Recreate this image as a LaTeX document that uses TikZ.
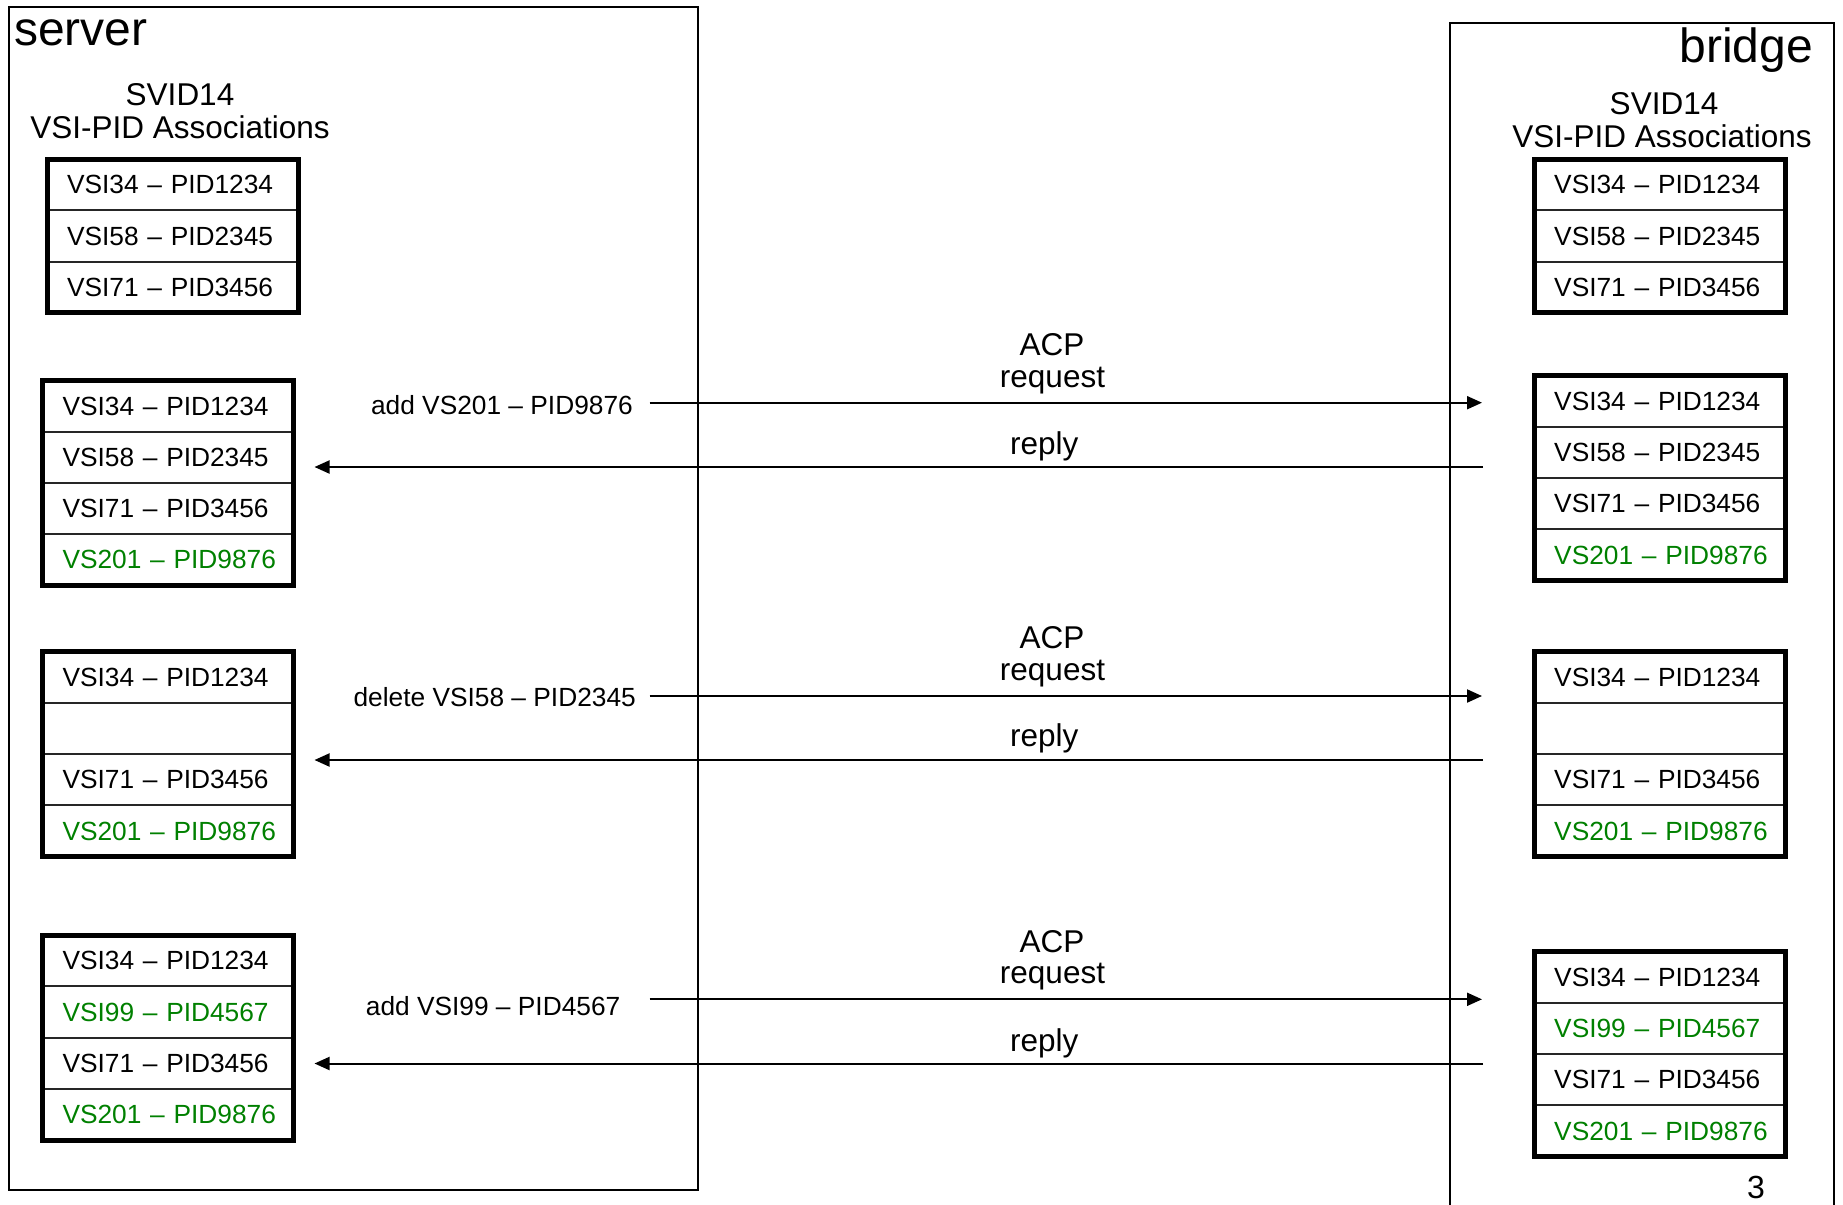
\documentclass[tikz,border=0pt]{standalone}
\usepackage{fontspec}
\setmainfont{Liberation Sans}
\usetikzlibrary{arrows.meta,positioning}
\definecolor{addgreen}{RGB}{0,128,0}
% table entries stay on one line: no breaks after the dash
\newcommand\cellfont{\fontsize{26.3pt}{30pt}\selectfont\exhyphenpenalty=10000 \hyphenpenalty=10000 }
\newcommand\headfont{\fontsize{31.5pt}{34pt}\selectfont}
\newcommand\titlefont{\fontsize{48pt}{52pt}\selectfont}
\newcommand\pagenofont{\fontsize{32pt}{34pt}\selectfont}

\begin{document}
\begin{tikzpicture}[x=1pt,y=-1pt,
  cell/.style={draw=black!85, line width=2pt, outer sep=0pt, inner xsep=20pt,
    inner ysep=0pt, minimum height=51.2pt, text width=211pt, align=left,
    font=\cellfont},
  added/.style={cell, text=addgreen},
  tableframe/.style={line width=5pt},
  site/.style={line width=2.2pt},
  head/.style={font=\headfont, inner sep=0pt, anchor=base},
  oplabel/.style={font=\cellfont, inner sep=0pt, anchor=base east},
  msg/.style={line width=2pt, -{Triangle[length=15pt,width=13pt]}},
]
\useasboundingbox (0,0) rectangle (1843,1204);

% ---- the two sites ----
\draw[site] (9,7) rectangle (698,1190);
\node[font=\titlefont, inner sep=0pt, anchor=base west] (server) at (14,46) {server};

\draw[site] (1450,1215) -- (1450,22.7) -- (1834,22.7) -- (1834,1215);
\node[font=\titlefont, inner sep=0pt, anchor=base east] (bridge) at (1813,62.5) {bridge};

% ---- table headings ----
\node[head] (shA) at (180,106) {SVID14};
\node[head] (shB) at (180,138.5) {VSI-PID Associations};
\node[head] (bhA) at (1664,115) {SVID14};
\node[head] (bhB) at (1662,147) {VSI-PID Associations};

% ---- server tables ----
\node[cell, anchor=north west] (s1a) at (47,159.2) {\mbox{VSI34 – PID1234}};
\node[cell, below=0pt of s1a] (s1b) {\mbox{VSI58 – PID2345}};
\node[cell, below=0pt of s1b] (s1c) {\mbox{VSI71 – PID3456}};
\draw[tableframe] (s1a.north west) rectangle (s1c.south east);

\node[cell, anchor=north west] (s2a) at (42.5,380.5) {\mbox{VSI34 – PID1234}};
\node[cell, below=0pt of s2a] (s2b) {\mbox{VSI58 – PID2345}};
\node[cell, below=0pt of s2b] (s2c) {\mbox{VSI71 – PID3456}};
\node[added, below=0pt of s2c] (s2d) {\mbox{VS201 – PID9876}};
\draw[tableframe] (s2a.north west) rectangle (s2d.south east);

\node[cell, anchor=north west] (s3a) at (42.5,651.8) {\mbox{VSI34 – PID1234}};
\node[cell, below=0pt of s3a] (s3b) {};
\node[cell, below=0pt of s3b] (s3c) {\mbox{VSI71 – PID3456}};
\node[added, below=0pt of s3c] (s3d) {\mbox{VS201 – PID9876}};
\draw[tableframe] (s3a.north west) rectangle (s3d.south east);

\node[cell, anchor=north west] (s4a) at (42.5,935.2) {\mbox{VSI34 – PID1234}};
\node[added, below=0pt of s4a] (s4b) {\mbox{VSI99 – PID4567}};
\node[cell, below=0pt of s4b] (s4c) {\mbox{VSI71 – PID3456}};
\node[added, below=0pt of s4c] (s4d) {\mbox{VS201 – PID9876}};
\draw[tableframe] (s4a.north west) rectangle (s4d.south east);

% ---- bridge tables ----
\node[cell, anchor=north west] (b1a) at (1534.2,159.2) {\mbox{VSI34 – PID1234}};
\node[cell, below=0pt of b1a] (b1b) {\mbox{VSI58 – PID2345}};
\node[cell, below=0pt of b1b] (b1c) {\mbox{VSI71 – PID3456}};
\draw[tableframe] (b1a.north west) rectangle (b1c.south east);

\node[cell, anchor=north west] (b2a) at (1534.2,375.8) {\mbox{VSI34 – PID1234}};
\node[cell, below=0pt of b2a] (b2b) {\mbox{VSI58 – PID2345}};
\node[cell, below=0pt of b2b] (b2c) {\mbox{VSI71 – PID3456}};
\node[added, below=0pt of b2c] (b2d) {\mbox{VS201 – PID9876}};
\draw[tableframe] (b2a.north west) rectangle (b2d.south east);

\node[cell, anchor=north west] (b3a) at (1534.2,651.8) {\mbox{VSI34 – PID1234}};
\node[cell, below=0pt of b3a] (b3b) {};
\node[cell, below=0pt of b3b] (b3c) {\mbox{VSI71 – PID3456}};
\node[added, below=0pt of b3c] (b3d) {\mbox{VS201 – PID9876}};
\draw[tableframe] (b3a.north west) rectangle (b3d.south east);

\node[cell, anchor=north west] (b4a) at (1534.2,951.8) {\mbox{VSI34 – PID1234}};
\node[added, below=0pt of b4a] (b4b) {\mbox{VSI99 – PID4567}};
\node[cell, below=0pt of b4b] (b4c) {\mbox{VSI71 – PID3456}};
\node[added, below=0pt of b4c] (b4d) {\mbox{VS201 – PID9876}};
\draw[tableframe] (b4a.north west) rectangle (b4d.south east);

% ---- exchange 1: add ----
\node[oplabel] (op1) at (633,414) {add VS201 – PID9876};
\node[head] (acp1) at (1052,355.5) {ACP};
\node[head] (rq1) at (1052.5,387) {request};
\node[head] (rp1) at (1044.3,454) {reply};
\coordinate (rq1s) at (649.7,402.7);
\coordinate (rq1e) at (1482,402.7);
\coordinate (rp1s) at (1483,467);
\coordinate (rp1e) at (314.5,467);
\draw[msg] (rq1s) -- (rq1e);
\draw[msg] (rp1s) -- (rp1e);

% ---- exchange 2: delete ----
\node[oplabel] (op2) at (636,706) {delete VSI58 – PID2345};
\node[head] (acp2) at (1052,648.3) {ACP};
\node[head] (rq2) at (1052.5,680) {request};
\node[head] (rp2) at (1044.3,746.7) {reply};
\coordinate (rq2s) at (649.7,696);
\coordinate (rq2e) at (1482,696);
\coordinate (rp2s) at (1483,760);
\coordinate (rp2e) at (314.5,760);
\draw[msg] (rq2s) -- (rq2e);
\draw[msg] (rp2s) -- (rp2e);

% ---- exchange 3: add ----
\node[oplabel] (op3) at (620.5,1015) {add VSI99 – PID4567};
\node[head] (acp3) at (1052,952.3) {ACP};
\node[head] (rq3) at (1052.5,983.3) {request};
\node[head] (rp3) at (1044.3,1051.7) {reply};
\coordinate (rq3s) at (649.7,999.3);
\coordinate (rq3e) at (1482,999.3);
\coordinate (rp3s) at (1483,1063.5);
\coordinate (rp3e) at (314.5,1063.5);
\draw[msg] (rq3s) -- (rq3e);
\draw[msg] (rp3s) -- (rp3e);

% ---- page number ----
\node[font=\pagenofont, inner sep=0pt, anchor=base] (pageno) at (1756,1198) {3};
\end{tikzpicture}
\end{document}
